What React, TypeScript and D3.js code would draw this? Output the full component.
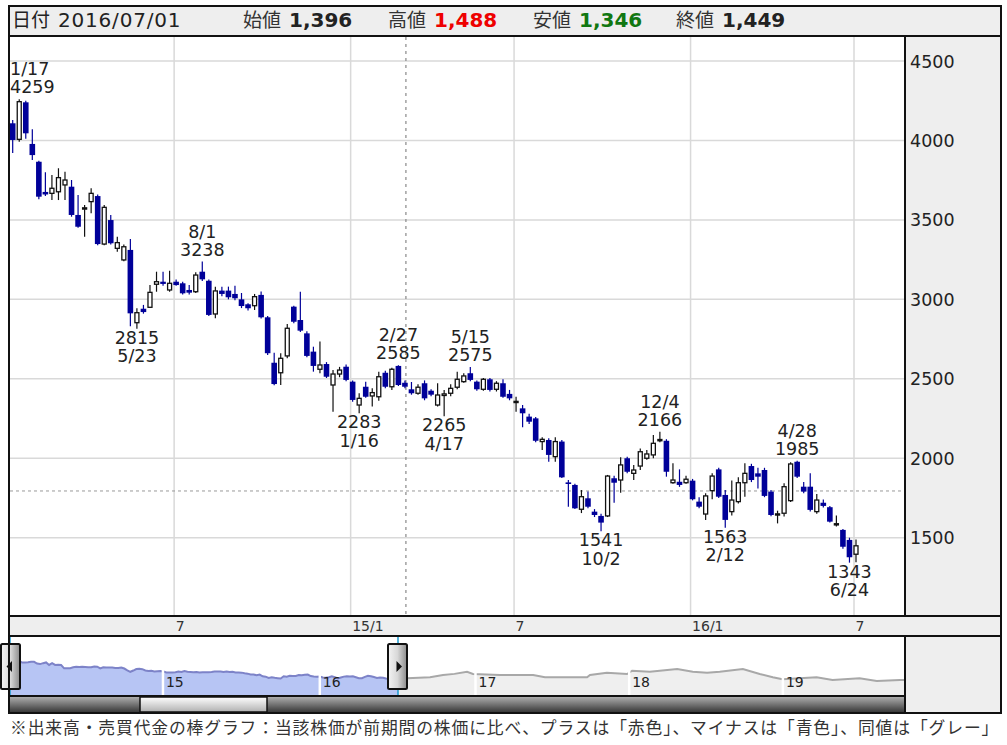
import React from "react";
import * as d3 from "d3";

// ---------- data (weekly candles, first week ends 2014-01-10) ----------
const firstWeek = new Date(2014, 0, 10);
const openVals = [
  4108, 4007, 4240, 3978, 3866, 3676, 3667, 3677, 3720, 3709,
  3531, 3568, 3615, 3650, 3348, 3499, 3321, 3248, 3311, 2853,
  2941, 2950, 3095, 3111, 3059, 3111, 3101, 3059, 3048, 3174,
  3117, 2908, 3055, 3055, 3034, 3000, 2969, 2960, 3028, 2887,
  2601, 2538, 2644, 2954, 2870, 2786, 2671, 2560, 2593, 2461,
  2530, 2576, 2482, 2335, 2450, 2392, 2387, 2538, 2450, 2581,
  2475, 2434, 2409, 2472, 2425, 2335, 2395, 2409, 2447, 2482,
  2535, 2482, 2434, 2497, 2434, 2472, 2405, 2352, 2314, 2262,
  2251, 2105, 2115, 2010, 2105, 1848, 1832, 1679, 1748, 1664,
  1637, 1637, 1874, 1863, 2000, 1905, 1951, 2000, 2021, 2110,
  2110, 1846, 1852, 1846, 1859, 1727, 1649, 1796, 1930, 1769,
  1664, 1727, 1846, 1951, 1905, 1926, 1790, 1645, 1654, 1733,
  1978, 1821, 1821, 1664, 1720, 1692, 1584, 1549, 1486, 1396,
];
const highVals = [
  4129, 4259, 4250, 4070, 3872, 3800, 3783, 3825, 3803, 3751,
  3657, 3594, 3699, 3660, 3594, 3531, 3394, 3345, 3380, 2944,
  2965, 3090, 3174, 3174, 3180, 3125, 3110, 3090, 3170, 3238,
  3125, 3080, 3080, 3080, 3085, 3040, 2975, 3034, 3050, 2895,
  2664, 2661, 2845, 2960, 3048, 2800, 2702, 2734, 2605, 2555,
  2575, 2590, 2490, 2409, 2482, 2440, 2545, 2550, 2570, 2585,
  2490, 2480, 2465, 2490, 2435, 2472, 2430, 2465, 2545, 2535,
  2575, 2490, 2505, 2505, 2485, 2497, 2430, 2387, 2335, 2280,
  2260, 2132, 2126, 2132, 2115, 1863, 1840, 1800, 1790, 1680,
  1650, 1895, 1890, 2006, 2010, 1958, 2062, 2052, 2147, 2166,
  2120, 1968, 1930, 1890, 1870, 1755, 1780, 1906, 1940, 1800,
  1860, 1880, 1968, 1965, 1940, 1940, 1800, 1670, 1843, 1975,
  1985, 1850, 1905, 1775, 1740, 1700, 1640, 1555, 1500, 1488,
];
const lowVals = [
  3921, 3992, 4010, 3877, 3630, 3650, 3625, 3625, 3625, 3520,
  3450, 3394, 3542, 3340, 3340, 3345, 3300, 3240, 2830, 2815,
  2910, 2945, 3048, 3085, 3048, 3085, 3030, 3030, 3040, 3115,
  2895, 2881, 3020, 3000, 2995, 2945, 2930, 2933, 2880, 2650,
  2460, 2461, 2629, 2850, 2795, 2635, 2545, 2535, 2505, 2293,
  2510, 2485, 2355, 2283, 2380, 2325, 2362, 2440, 2430, 2455,
  2440, 2400, 2400, 2365, 2390, 2325, 2265, 2390, 2435, 2475,
  2485, 2425, 2425, 2420, 2420, 2380, 2365, 2293, 2195, 2215,
  2100, 2052, 1978, 1978, 1875, 1695, 1680, 1655, 1685, 1630,
  1541, 1630, 1720, 1783, 1905, 1863, 1926, 1990, 2000, 2100,
  1884, 1840, 1820, 1840, 1735, 1685, 1612, 1742, 1750, 1563,
  1640, 1715, 1758, 1850, 1810, 1755, 1635, 1590, 1633, 1725,
  1875, 1780, 1665, 1650, 1690, 1595, 1570, 1430, 1343, 1346,
];
const closeVals = [
  4003, 4244, 4045, 3908, 3646, 3660, 3699, 3766, 3751, 3531,
  3457, 3576, 3667, 3348, 3579, 3353, 3357, 3331, 2912, 2916,
  2920, 3044, 3111, 3097, 3101, 3090, 3038, 3042, 3153, 3126,
  2902, 3053, 3034, 3013, 3007, 2958, 2944, 3017, 2887, 2661,
  2467, 2629, 2818, 2859, 2803, 2644, 2581, 2587, 2513, 2530,
  2555, 2493, 2367, 2377, 2387, 2413, 2513, 2450, 2560, 2461,
  2450, 2409, 2447, 2377, 2400, 2398, 2405, 2440, 2497, 2518,
  2493, 2434, 2497, 2430, 2472, 2387, 2377, 2358, 2283, 2230,
  2110, 2119, 2021, 2105, 1880, 1838, 1685, 1758, 1695, 1643,
  1595, 1888, 1846, 1958, 1915, 1926, 2041, 2027, 2094, 2118,
  1915, 1863, 1832, 1868, 1742, 1695, 1763, 1888, 1758, 1612,
  1737, 1846, 1905, 1863, 1884, 1763, 1643, 1650, 1821, 1964,
  1884, 1790, 1675, 1737, 1700, 1601, 1588, 1443, 1377, 1449,
];

const priceTicks = [1500, 2000, 2500, 3000, 3500, 4000, 4500];
const monthTickIndex = [25, 52, 77, 104, 129];
const monthTickLabels = ["7", "15/1", "7", "16/1", "7"];

const markIndex = [1, 19, 29, 53, 59, 66, 70, 90, 99, 109, 120, 128];
const markKind = ["high", "low", "high", "low", "high", "low", "high", "low", "high", "low", "high", "low"];
const markDate = ["1/17", "5/23", "8/1", "1/16", "2/27", "4/17", "5/15", "10/2", "12/4", "2/12", "4/28", "6/24"];
const markValue = [4259, 2815, 3238, 2283, 2585, 2265, 2575, 1541, 2166, 1563, 1985, 1343];

// navigator: later part of the long-range line
const navLaterDates = [
  "2016-07-22", "2016-08-19", "2016-09-15", "2016-10-16", "2016-11-12", "2016-12-12", "2016-12-26",
  "2017-02-28", "2017-05-18", "2017-06-15", "2017-09-23", "2017-09-30", "2017-11-09", "2017-12-27",
  "2018-01-08", "2018-02-19", "2018-04-25", "2018-06-01", "2018-07-05", "2018-08-04", "2018-09-28",
  "2018-11-07", "2018-12-08", "2018-12-31", "2019-02-10", "2019-03-22", "2019-04-29", "2019-07-02",
  "2019-08-12", "2019-10-06", "2019-10-18",
];
const navLaterValues = [
  1630, 1700, 1759, 2054, 2200, 2478, 2182,
  2054, 2054, 1759, 1759, 2054, 2349, 2182,
  2606, 2478, 2824, 2478, 2349, 2478, 2824,
  2182, 1759, 1500, 1630, 1759, 1412, 1630,
  1300, 1412, 1412,
];
const navYearLabels = ["15", "16", "17", "18", "19"];
const navYearDates = ["2015-01-01", "2016-01-01", "2017-01-01", "2018-01-01", "2019-01-01"];

const headerLabels = ["始値", "高値", "安値", "終値"];
const headerValues = ["1,396", "1,488", "1,346", "1,449"];
const headerColors = ["#222", "#ee0000", "#117711", "#222"];
const headerDate = "2016/07/01";
const footNote =
  "※出来高・売買代金の棒グラフ：当該株価が前期間の株価に比べ、プラスは「赤色」、マイナスは「青色」、同値は「グレー」";

// ---------- layout ----------
const L = 10;
const R = 905;
const TOP = 37;
const BOT = 615;
const BLUE = "#000099";
const NUMFONT = "'DejaVu Sans', Verdana, sans-serif";
const JPFONT = "'Noto Sans CJK JP', 'DejaVu Sans', sans-serif";

const parse = d3.timeParse("%Y-%m-%d");

export default function App() {
  const n = closeVals.length;
  const x = d3.scaleLinear().domain([0, n - 1]).range([12.7, 856]);
  const y = d3.scaleLinear().domain([1500, 4500]).range([537.7, 61]);
  const bw = 5.2;

  const weekDates = d3.range(n).map((i) => d3.timeDay.offset(firstWeek, 7 * i));
  const navX = d3
    .scaleTime()
    .domain([firstWeek, weekDates[n - 1], parse("2019-10-18") as Date])
    .range([L, 398, R]);
  const navY = d3.scaleLinear().domain([0, 7000]).range([691, 636.5]);
  const navPts: [Date, number][] = [
    ...weekDates.map((d, i) => [d, closeVals[i]] as [Date, number]),
    ...navLaterDates.map((s, i) => [parse(s) as Date, navLaterValues[i]] as [Date, number]),
  ];
  const navArea = d3
    .area<[Date, number]>()
    .x((d) => navX(d[0]))
    .y0(695)
    .y1((d) => navY(d[1]));
  const navLine = d3
    .line<[Date, number]>()
    .x((d) => navX(d[0]))
    .y((d) => navY(d[1]));
  const areaD = navArea(navPts) || "";
  const lineD = navLine(navPts) || "";
  const selEnd = navX(weekDates[n - 1]);

  const crossX = x(60.15);
  const crossY = y(1794);

  return (
    <svg width={1007} height={745} style={{ position: "absolute", left: 0, top: 0 }}>
      <defs>
        <clipPath id="plot">
          <rect x={L} y={TOP} width={R - L} height={BOT - TOP} />
        </clipPath>
        <clipPath id="selClip">
          <rect x={L} y={636} width={selEnd - L} height={60} />
        </clipPath>
        <clipPath id="restClip">
          <rect x={selEnd} y={636} width={R - selEnd} height={60} />
        </clipPath>
        <linearGradient id="handleGrad" x1="0" x2="1" y1="0" y2="0">
          <stop offset="0" stopColor="#f4f4f4" />
          <stop offset="0.5" stopColor="#d8d8d8" />
          <stop offset="1" stopColor="#8a8a8a" />
        </linearGradient>
        <linearGradient id="trackGrad" x1="0" x2="0" y1="0" y2="1">
          <stop offset="0" stopColor="#b4b4b4" />
          <stop offset="1" stopColor="#3a3a3a" />
        </linearGradient>
        <linearGradient id="thumbGrad" x1="0" x2="0" y1="0" y2="1">
          <stop offset="0" stopColor="#ffffff" />
          <stop offset="1" stopColor="#b0b0b0" />
        </linearGradient>
      </defs>

      <rect x={0} y={0} width={1007} height={745} fill="#fff" />

      {/* header */}
      <rect x={9} y={6} width={992} height={30} fill="#eeeeee" />
      <text x={12} y={27} fontFamily={JPFONT} fontSize={19} fill="#222">
        日付
      </text>
      <text x={58} y={27} fontFamily={NUMFONT} fontSize={20} fill="#222" letterSpacing={0.8}>
        {headerDate}
      </text>
      {headerLabels.map((lab, k) => {
        const lx = [243, 388, 533, 676][k];
        return (
          <g key={lab}>
            <text x={lx} y={27} fontFamily={JPFONT} fontSize={19} fill="#333">
              {lab}
            </text>
            <text x={lx + 46} y={27} fontFamily={NUMFONT} fontSize={20} fontWeight="bold" fill={headerColors[k]}>
              {headerValues[k]}
            </text>
          </g>
        );
      })}

      {/* right axis panel */}
      <rect x={R} y={TOP} width={1001 - R} height={BOT - TOP} fill="#eeeeee" />

      {/* grid */}
      {priceTicks.map((p) => (
        <line key={p} x1={L} x2={R} y1={y(p)} y2={y(p)} stroke="#d9d9d9" strokeWidth={1.5} />
      ))}
      {monthTickIndex.map((i) => (
        <line key={i} x1={x(i) - 2} x2={x(i) - 2} y1={TOP} y2={BOT} stroke="#d9d9d9" strokeWidth={1.5} />
      ))}
      {priceTicks.map((p) => (
        <text key={"t" + p} x={910} y={y(p) + 6.5} fontFamily={NUMFONT} fontSize={17.5} fill="#222">
          {p}
        </text>
      ))}

      {/* crosshair */}
      <line x1={crossX} x2={crossX} y1={TOP} y2={BOT} stroke="#888" strokeWidth={1.2} strokeDasharray="3,4" />
      <line x1={L} x2={R} y1={crossY} y2={crossY} stroke="#999" strokeWidth={1} strokeDasharray="3,3" />

      {/* candles */}
      <g clipPath="url(#plot)">
        {closeVals.map((c, i) => {
          const o = openVals[i];
          const up = c >= o;
          const cx = x(i);
          const top = y(Math.max(o, c));
          const bot = y(Math.min(o, c));
          const col = up ? "#111" : BLUE;
          return (
            <g key={i}>
              <line x1={cx} x2={cx} y1={y(highVals[i])} y2={y(lowVals[i])} stroke={col} strokeWidth={1.2} />
              {up ? (
                <rect
                  x={cx - bw / 2 + 0.6}
                  y={top}
                  width={bw - 1.2}
                  height={Math.max(bot - top, 1.2)}
                  fill="#fff"
                  stroke="#111"
                  strokeWidth={1.3}
                />
              ) : (
                <rect x={cx - bw / 2 - 0.2} y={top} width={bw + 0.4} height={Math.max(bot - top, 1.5)} fill={BLUE} />
              )}
            </g>
          );
        })}
      </g>

      {/* high / low marks */}
      {markIndex.map((i, k) => {
        let cx = x(i);
        let anchor: "middle" | "start" = "middle";
        if (cx - 23 < L) {
          cx = L;
          anchor = "start";
        }
        const isHigh = markKind[k] === "high";
        const yv = isHigh ? y(markValue[k]) - 6 : y(markValue[k]) + 15;
        const yd = isHigh ? y(markValue[k]) - 24 : y(markValue[k]) + 33.5;
        return (
          <g key={"m" + k} fontFamily={NUMFONT} fontSize={17.5} fill="#222" textAnchor={anchor}>
            <text x={cx} y={yd}>
              {markDate[k]}
            </text>
            <text x={cx} y={yv}>
              {markValue[k]}
            </text>
          </g>
        );
      })}

      {/* x axis band */}
      <rect x={9} y={616} width={992} height={20} fill="#eeeeee" />
      {monthTickIndex.map((i, k) => (
        <text key={"xl" + k} x={x(i) - 0.5} y={631} fontFamily={NUMFONT} fontSize={14} fill="#333">
          {monthTickLabels[k]}
        </text>
      ))}

      {/* navigator */}
      <rect x={R} y={636} width={1001 - R} height={77} fill="#eeeeee" />
      <g clipPath="url(#selClip)">
        <path d={areaD} fill="#b7c5f4" />
        <path d={lineD} fill="none" stroke="#7d83c8" strokeWidth={2} />
      </g>
      <g clipPath="url(#restClip)">
        <path d={areaD} fill="#efefef" />
        <path d={lineD} fill="none" stroke="#a8a8a8" strokeWidth={2} />
      </g>
      {navYearDates.map((s, k) => {
        const gx = navX(parse(s) as Date);
        return (
          <g key={"ny" + k}>
            <line x1={gx} x2={gx} y1={640} y2={695} stroke="#ffffff" strokeWidth={2.5} />
            <text x={gx + 3} y={687} fontFamily={NUMFONT} fontSize={14} fill="#222">
              {navYearLabels[k]}
            </text>
          </g>
        );
      })}
      <line x1={L} x2={L} y1={636} y2={695} stroke="#1a9ad0" strokeWidth={1.5} />
      <line x1={selEnd} x2={selEnd} y1={636} y2={695} stroke="#1a9ad0" strokeWidth={1.5} />
      {/* handles */}
      <rect x={1} y={644} width={19} height={45} rx={1.5} fill="url(#handleGrad)" stroke="#111" strokeWidth={2} />
      <path d="M6.5,666.5 L12,661 L12,672 Z" fill="#111" />
      <rect x={selEnd - 10} y={644} width={19} height={45} rx={1.5} fill="url(#handleGrad)" stroke="#111" strokeWidth={2} />
      <path d={`M${selEnd + 4},666.5 L${selEnd - 1.5},661 L${selEnd - 1.5},672 Z`} fill="#111" />

      {/* scrollbar */}
      <rect x={9} y={696} width={R - 9} height={16} fill="url(#trackGrad)" />
      <rect x={140} y={697} width={127} height={15} fill="url(#thumbGrad)" stroke="#111" strokeWidth={1.5} />
      <line x1={9} x2={R} y1={696} y2={696} stroke="#111" strokeWidth={2} />

      {/* frame lines */}
      <rect x={9} y={6} width={992} height={707} fill="none" stroke="#111" strokeWidth={2} />
      <line x1={9} x2={1001} y1={36} y2={36} stroke="#111" strokeWidth={2} />
      <line x1={9} x2={1001} y1={616} y2={616} stroke="#111" strokeWidth={2} />
      <line x1={9} x2={1001} y1={636} y2={636} stroke="#111" strokeWidth={2} />
      <line x1={R} x2={R} y1={36} y2={616} stroke="#111" strokeWidth={2} />
      <line x1={R} x2={R} y1={636} y2={713} stroke="#111" strokeWidth={2} />

      {/* footnote */}
      <text x={10} y={734} fontFamily={JPFONT} fontSize={16.8} fill="#333" letterSpacing={0.88}>
        {footNote}
      </text>
    </svg>
  );
}
